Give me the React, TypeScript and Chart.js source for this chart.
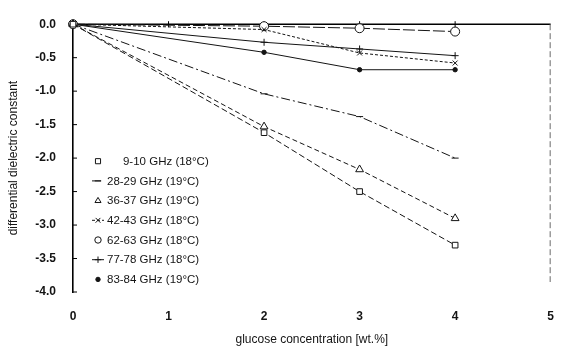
import React, { useEffect, useRef } from "react";
import { Chart, registerables } from "chart.js";

Chart.register(...registerables);

// glucose concentration [wt.%]
const concentrations = [0, 2, 3, 4];

const seriesLabels = [
  "     9-10 GHz (18°C)",
  "28-29 GHz (19°C)",
  "36-37 GHz (19°C)",
  "42-43 GHz (18°C)",
  "62-63 GHz (18°C)",
  "77-78 GHz (18°C)",
  "83-84 GHz (19°C)",
];

const ghz9_10 = [0, -1.62, -2.5, -3.3];
const ghz28_29 = [0, -1.04, -1.38, -2.0];
const ghz36_37 = [0, -1.53, -2.17, -2.9];
const ghz42_43 = [0, -0.08, -0.43, -0.58];
const ghz62_63 = [0, -0.03, -0.06, -0.11];
const ghz77_78 = [0, -0.27, -0.37, -0.47];
const ghz83_84 = [0, -0.42, -0.68, -0.68];

const xTicks = [0, 1, 2, 3, 4, 5];
const yTicks = [0, -0.5, -1, -1.5, -2, -2.5, -3, -3.5, -4];

const FONT = "'Liberation Sans', Arial, sans-serif";
const INK = "#141414";

function toPoints(values: number[]) {
  return values.map((v, i) => ({ x: concentrations[i], y: v }));
}

function drawMarker(ctx: CanvasRenderingContext2D, style: string, r: number, x: number, y: number, fill: string) {
  ctx.save();
  ctx.setLineDash([]);
  ctx.lineWidth = 1;
  ctx.strokeStyle = INK;
  ctx.fillStyle = fill;
  ctx.beginPath();
  if (style === "rect") {
    ctx.rect(x - r * 0.8, y - r * 0.8, r * 1.6, r * 1.6);
    ctx.fill();
    ctx.stroke();
  } else if (style === "triangle") {
    ctx.moveTo(x, y - r);
    ctx.lineTo(x + r * 0.95, y + r * 0.6);
    ctx.lineTo(x - r * 0.95, y + r * 0.6);
    ctx.closePath();
    ctx.fill();
    ctx.stroke();
  } else if (style === "circle") {
    ctx.arc(x, y, r, 0, Math.PI * 2);
    ctx.fill();
    ctx.stroke();
  } else if (style === "cross") {
    ctx.moveTo(x - r, y);
    ctx.lineTo(x + r, y);
    ctx.moveTo(x, y - r);
    ctx.lineTo(x, y + r);
    ctx.stroke();
  } else if (style === "crossRot") {
    const d = r * 0.75;
    ctx.moveTo(x - d, y - d);
    ctx.lineTo(x + d, y + d);
    ctx.moveTo(x - d, y + d);
    ctx.lineTo(x + d, y - d);
    ctx.stroke();
  } else if (style === "line") {
    ctx.moveTo(x - r, y);
    ctx.lineTo(x + r, y);
    ctx.stroke();
  }
  ctx.restore();
}

const framePlugin = {
  id: "frame",
  beforeDatasetsDraw(chart: any) {
    const { ctx, chartArea, scales } = chart;
    const xs = scales.x;
    const ys = scales.y;
    const y0 = ys.getPixelForValue(0);
    ctx.save();
    ctx.strokeStyle = "#000";
    ctx.lineWidth = 1.6;
    ctx.beginPath();
    ctx.moveTo(chartArea.left, y0);
    ctx.lineTo(chartArea.right, y0);
    ctx.stroke();
    ctx.lineWidth = 1;
    xTicks.forEach((v) => {
      if (v === 0 || v === 5) return;
      const px = xs.getPixelForValue(v);
      ctx.beginPath();
      ctx.moveTo(px, y0 - 3);
      ctx.lineTo(px, y0 + 3);
      ctx.stroke();
    });
    yTicks.forEach((v) => {
      const py = ys.getPixelForValue(v);
      ctx.beginPath();
      ctx.moveTo(chartArea.left, py);
      ctx.lineTo(chartArea.left + 4, py);
      ctx.stroke();
    });
    ctx.strokeStyle = "#6a6a6a";
    ctx.setLineDash([6, 3]);
    ctx.beginPath();
    ctx.moveTo(chartArea.right - 0.5, chartArea.top);
    ctx.lineTo(chartArea.right - 0.5, chartArea.bottom - 10);
    ctx.stroke();
    ctx.restore();
  },
};

const legendPlugin = {
  id: "insideLegend",
  afterDraw(chart: any) {
    const { ctx, chartArea } = chart;
    const cx = chartArea.left + 25;
    ctx.save();
    chart.data.datasets.forEach((ds: any, i: number) => {
      const y = chartArea.top + 137 + i * 19.7;
      if (ds.legendLine) {
        ctx.save();
        ctx.strokeStyle = INK;
        ctx.lineWidth = 1;
        ctx.setLineDash(ds.borderDash || []);
        ctx.beginPath();
        ctx.moveTo(cx - 6, y);
        ctx.lineTo(cx + 6, y);
        ctx.stroke();
        ctx.restore();
      }
      drawMarker(ctx, ds.pointStyle, Math.min(ds.pointRadius, 3.2), cx, y, ds.pointBackgroundColor);
      ctx.fillStyle = INK;
      ctx.font = `11.5px ${FONT}`;
      ctx.textBaseline = "middle";
      ctx.textAlign = "left";
      ctx.fillText(ds.label, chartArea.left + 34, y + 0.5);
    });
    ctx.restore();
  },
};

function makeDataset(
  label: string,
  values: number[],
  dash: number[],
  pointStyle: string,
  pointRadius: number,
  fill: string,
  legendLine: boolean
) {
  return {
    label,
    data: toPoints(values),
    borderColor: INK,
    borderWidth: 1,
    borderDash: dash,
    pointStyle,
    pointRadius,
    pointBorderWidth: 1,
    pointBorderColor: INK,
    pointBackgroundColor: fill,
    fill: false,
    tension: 0,
    clip: false,
    legendLine,
  } as any;
}

export default function App() {
  const canvasRef = useRef<HTMLCanvasElement | null>(null);

  useEffect(() => {
    if (!canvasRef.current) return;
    const chart = new Chart(canvasRef.current, {
      type: "line",
      data: {
        datasets: [
          makeDataset(seriesLabels[0], ghz9_10, [6, 3], "rect", 4, "#fff", false),
          makeDataset(seriesLabels[1], ghz28_29, [9, 3, 2, 3], "line", 3.5, "#fff", true),
          makeDataset(seriesLabels[2], ghz36_37, [5, 3], "triangle", 4.5, "#fff", false),
          makeDataset(seriesLabels[3], ghz42_43, [3, 2], "crossRot", 3.5, "#fff", true),
          makeDataset(seriesLabels[4], ghz62_63, [12, 3], "circle", 4.5, "#fff", false),
          makeDataset(seriesLabels[5], ghz77_78, [], "cross", 3.5, "#fff", true),
          makeDataset(seriesLabels[6], ghz83_84, [], "circle", 2.2, INK, false),
        ],
      },
      options: {
        animation: false,
        responsive: false,
        layout: { padding: { top: 15, right: 5, left: 0, bottom: 0 } },
        plugins: {
          legend: { display: false },
          tooltip: { enabled: false },
        },
        scales: {
          x: {
            type: "linear",
            position: "bottom",
            min: 0,
            max: 5,
            afterBuildTicks: (scale: any) => {
              scale.ticks = xTicks.map((v) => ({ value: v }));
            },
            afterFit: (scale: any) => {
              scale.height = 61;
            },
            grid: { display: false, drawTicks: false },
            border: { display: false },
            ticks: {
              padding: 17,
              color: INK,
              font: { family: FONT, size: 12, weight: "bold" },
              callback: (v: any) => String(v),
            },
            title: {
              display: true,
              text: "glucose concentration [wt.%]",
              color: INK,
              font: { family: FONT, size: 12 },
              padding: { top: 6, bottom: 6 },
            },
          },
          y: {
            type: "linear",
            min: -4,
            max: 0,
            afterBuildTicks: (scale: any) => {
              scale.ticks = yTicks.map((v) => ({ value: v }));
            },
            afterFit: (scale: any) => {
              scale.width = 73;
            },
            grid: { display: false, drawTicks: false },
            border: { display: true, color: "#000", width: 1.6 },
            ticks: {
              padding: 17,
              color: INK,
              font: { family: FONT, size: 12, weight: "bold" },
              callback: (v: any) => Number(v).toFixed(1),
            },
            title: {
              display: true,
              text: "differential dielectric constant",
              color: INK,
              font: { family: FONT, size: 12 },
              padding: { top: 6, bottom: 6 },
            },
          },
        },
      } as any,
      plugins: [framePlugin, legendPlugin],
    });
    return () => chart.destroy();
  }, []);

  return (
    <div style={{ position: "absolute", left: 0, top: 0, width: 571, height: 353, background: "#fff" }}>
      <canvas ref={canvasRef} width={571} height={353} style={{ display: "block" }} />
    </div>
  );
}
